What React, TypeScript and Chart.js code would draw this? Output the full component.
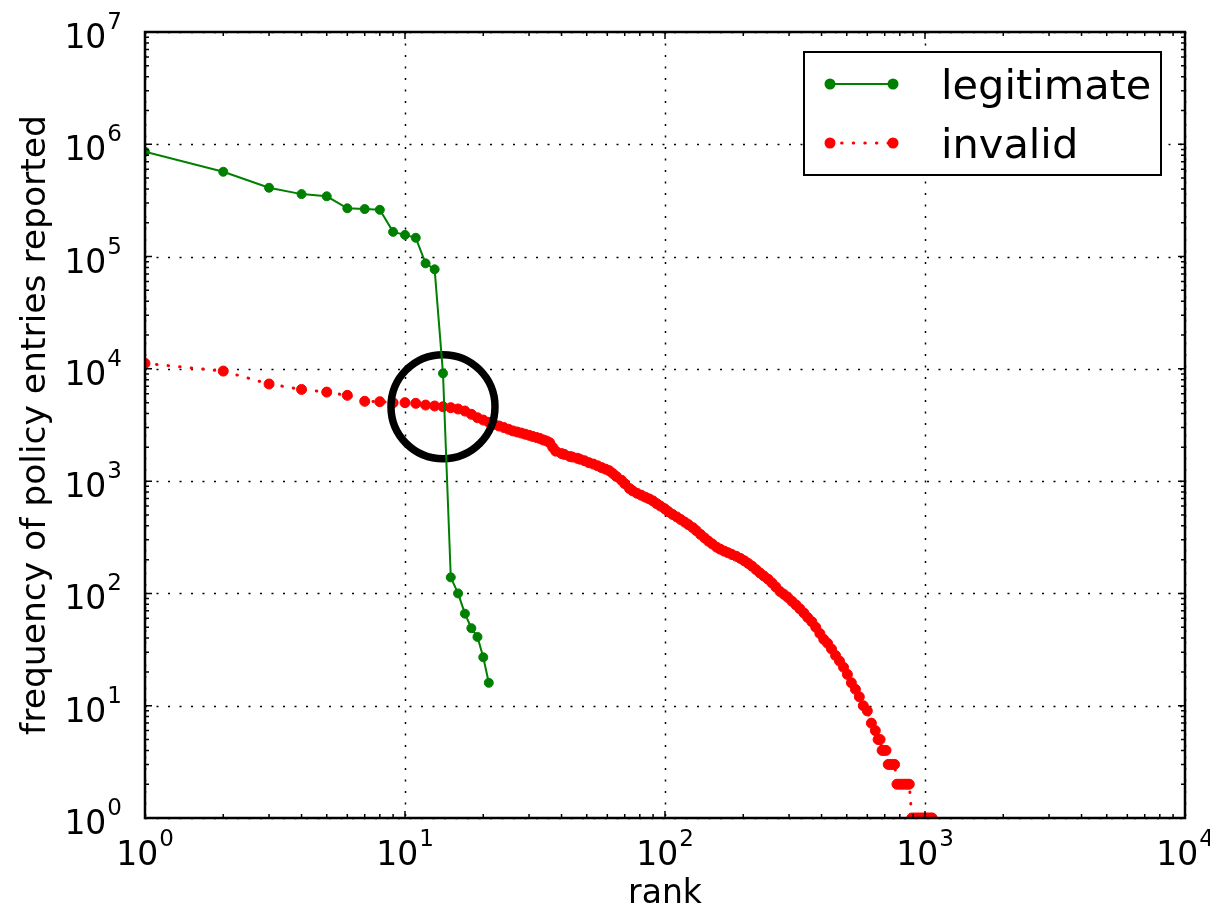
import React, { useEffect, useRef } from "react";
import { Chart, registerables } from "chart.js";

Chart.register(...registerables);

// ---------- data ----------
const seriesLabels = ["legitimate", "invalid"];
const xAxisTitle = "rank";
const yAxisTitle = "frequency of policy entries reported";

const legitRanks = [1, 2, 3, 4, 5, 6, 7, 8, 9, 10, 11, 12, 13, 14, 15, 16, 17, 18, 19, 20, 21];
const legitCounts = [
  857000, 569000, 410000, 360000, 344000, 269000, 265000, 261000, 166000, 156000,
  147000, 87000, 77000, 9120, 139, 100, 66, 49, 41, 27, 16,
];

const invalidRanks = [
  1, 2, 3, 4, 5, 6, 7, 8, 9, 10,
  11, 12, 13, 14, 15, 16, 17, 18, 19, 20,
  21, 22, 23, 24, 25, 26, 27, 28, 29, 30,
  31, 32, 33, 34, 35, 36, 37, 38, 40, 41,
  43, 44, 46, 47, 49, 51, 53, 55, 57, 59,
  61, 63, 65, 68, 70, 73, 75, 78, 81, 84,
  87, 90, 93, 96, 100, 103, 107, 111, 115, 119,
  123, 128, 132, 137, 142, 147, 152, 158, 163, 169,
  175, 181, 188, 195, 202, 209, 216, 224, 232, 240,
  249, 258, 267, 277, 287, 297, 308, 319, 330, 342,
  354, 367, 380, 394, 408, 422, 437, 453, 469, 486,
  503, 521, 540, 559, 579, 600, 622, 644, 660, 672,
  684, 696, 708, 722, 736, 750, 764, 780, 798, 816,
  834, 852, 870, 890, 910, 930, 950, 970, 990, 1010,
  1030, 1050, 1065,
];
const invalidCounts = [
  11200, 9550, 7330, 6560, 6210, 5810, 5140, 5100, 5000, 5000,
  4930, 4760, 4670, 4600, 4510, 4390, 4210, 3940, 3670, 3500,
  3340, 3210, 3100, 3000, 2900, 2800, 2740, 2680, 2620, 2560,
  2500, 2450, 2400, 2330, 2280, 2200, 2000, 1850, 1760, 1730,
  1660, 1640, 1600, 1570, 1520, 1460, 1420, 1370, 1320, 1280,
  1240, 1170, 1100, 1020, 950, 860, 820, 780, 750, 720,
  695, 665, 630, 600, 565, 535, 505, 480, 455, 432,
  410, 385, 362, 335, 312, 292, 276, 258, 248, 238,
  230, 222, 214, 205, 195, 185, 175, 163, 152, 143,
  134, 124, 114, 104, 98, 92, 85, 79, 73, 67,
  61, 56, 50, 44, 39, 36, 32, 28, 25, 22,
  19, 16, 14, 12, 10, 9, 7, 6, 5, 5,
  4, 4, 4, 3, 3, 3, 3, 2, 2, 2,
  2, 2, 2, 1, 1, 1, 1, 1, 1, 1,
  1, 1, 1,
];

// highlighted crossing (black ring)
const highlightRanks = [14];
const highlightCounts = [4600];

const xTickValues = [1, 10, 100, 1000, 10000];
const yTickValues = [1, 10, 100, 1000, 10000, 100000, 1000000, 10000000];

// ---------- helpers ----------
const FONT = "'DejaVu Sans', 'Liberation Sans', sans-serif";
const toPoints = (xs: number[], ys: number[]) => xs.map((x, i) => ({ x, y: ys[i] }));
const expOf = (v: number) => String(Math.round(Math.log10(v)));

// tick labels "10" with a raised exponent, as in matplotlib mathtext
const tickLabelPlugin = {
  id: "powLabels",
  afterDraw(chart: any) {
    const { ctx, chartArea: a, scales } = chart;
    const BASE = `33px ${FONT}`;
    const SUPF = `23px ${FONT}`;
    ctx.save();
    ctx.fillStyle = "#000";
    ctx.textBaseline = "alphabetic";
    ctx.textAlign = "left";
    xTickValues.forEach((v) => {
      const px = scales.x.getPixelForValue(v);
      const e = expOf(v);
      ctx.font = BASE;
      const w1 = ctx.measureText("10").width;
      ctx.font = SUPF;
      const w2 = ctx.measureText(e).width;
      const x0 = px - (w1 + 1 + w2) / 2;
      const by = a.bottom + 47;
      ctx.font = BASE;
      ctx.fillText("10", x0, by);
      ctx.font = SUPF;
      ctx.fillText(e, x0 + w1 + 1, by - 19);
    });
    yTickValues.forEach((v) => {
      const py = scales.y.getPixelForValue(v);
      const e = expOf(v);
      ctx.font = SUPF;
      const w2 = ctx.measureText(e).width;
      ctx.font = BASE;
      const w1 = ctx.measureText("10").width;
      const xr = a.left - 23;
      ctx.fillText("10", xr - w2 - 1 - w1, py + 16);
      ctx.font = SUPF;
      ctx.fillText(e, xr - w2, py - 3);
    });
    ctx.restore();
  },
};

// dotted grid lines + frame + inward ticks
const framePlugin = {
  id: "mplFrame",
  beforeDatasetsDraw(chart: any) {
    const { ctx, chartArea: a, scales } = chart;
    ctx.save();
    ctx.strokeStyle = "#000";
    ctx.lineWidth = 1.5;
    ctx.setLineDash([2, 9.5]);
    xTickValues.forEach((v) => {
      const px = Math.round(scales.x.getPixelForValue(v)) + 0.5;
      ctx.beginPath();
      ctx.moveTo(px, a.top);
      ctx.lineTo(px, a.bottom);
      ctx.stroke();
    });
    yTickValues.forEach((v) => {
      const py = Math.round(scales.y.getPixelForValue(v)) + 0.5;
      ctx.beginPath();
      ctx.moveTo(a.left, py);
      ctx.lineTo(a.right, py);
      ctx.stroke();
    });
    ctx.restore();
  },
  afterDatasetsDraw(chart: any) {
    const { ctx, chartArea: a, scales } = chart;
    ctx.save();
    ctx.strokeStyle = "#000";
    ctx.lineWidth = 1.5;
    ctx.setLineDash([]);
    const doAxis = (scale: any, horizontal: boolean) => {
      const lo = Math.round(Math.log10(scale.min));
      const hi = Math.round(Math.log10(scale.max));
      for (let e = lo; e <= hi; e++) {
        for (let m = 1; m <= 9; m++) {
          const v = m * Math.pow(10, e);
          if (v > scale.max * 1.0001) break;
          const len = m === 1 ? 7 : 4;
          const p = scale.getPixelForValue(v);
          ctx.beginPath();
          if (horizontal) {
            ctx.moveTo(p, a.bottom);
            ctx.lineTo(p, a.bottom - len);
            ctx.moveTo(p, a.top);
            ctx.lineTo(p, a.top + len);
          } else {
            ctx.moveTo(a.left, p);
            ctx.lineTo(a.left + len, p);
            ctx.moveTo(a.right, p);
            ctx.lineTo(a.right - len, p);
          }
          ctx.stroke();
        }
      }
    };
    doAxis(scales.x, true);
    doAxis(scales.y, false);
    ctx.lineWidth = 2.5;
    ctx.strokeRect(a.left, a.top, a.right - a.left, a.bottom - a.top);
    ctx.restore();
  },
};

// matplotlib-like boxed legend
const legendPlugin = {
  id: "mplLegend",
  afterDraw(chart: any) {
    const { ctx, chartArea: a } = chart;
    const items = chart.data.datasets.filter((d: any) => seriesLabels.includes(d.label));
    const right = a.right - 24;
    const left = right - 357;
    const top = a.top + 20;
    const h = 123;
    ctx.save();
    ctx.fillStyle = "#fff";
    ctx.fillRect(left, top, right - left, h);
    ctx.strokeStyle = "#000";
    ctx.lineWidth = 2;
    ctx.setLineDash([]);
    ctx.strokeRect(left, top, right - left, h);
    items.forEach((ds: any, i: number) => {
      const y = top + 32 + i * 59;
      const x0 = left + 26;
      const x1 = left + 89;
      ctx.save();
      ctx.strokeStyle = ds.borderColor;
      ctx.lineWidth = ds.borderWidth;
      ctx.lineCap = ds.borderCapStyle || "butt";
      ctx.setLineDash(ds.borderDash || []);
      ctx.beginPath();
      ctx.moveTo(x0, y);
      ctx.lineTo(x1, y);
      ctx.stroke();
      ctx.restore();
      ctx.fillStyle = ds.pointBackgroundColor;
      [x0, x1].forEach((x) => {
        ctx.beginPath();
        ctx.arc(x, y, 5.5, 0, Math.PI * 2);
        ctx.fill();
      });
      ctx.fillStyle = "#000";
      ctx.font = `41.5px ${FONT}`;
      ctx.textAlign = "left";
      ctx.textBaseline = "alphabetic";
      ctx.fillText(ds.label, left + 137, y + 15);
    });
    ctx.restore();
  },
};

const zeroPad = (s: any) => {
  s.paddingLeft = 0;
  s.paddingRight = 0;
  s.paddingTop = 0;
  s.paddingBottom = 0;
};

export default function App() {
  const ref = useRef<HTMLCanvasElement | null>(null);

  useEffect(() => {
    if (!ref.current) return;
    const chart = new Chart(ref.current, {
      type: "scatter",
      data: {
        datasets: [
          {
            label: seriesLabels[0],
            data: toPoints(legitRanks, legitCounts),
            showLine: true,
            borderColor: "#008000",
            backgroundColor: "#008000",
            pointBackgroundColor: "#008000",
            pointBorderColor: "#008000",
            borderWidth: 2,
            pointRadius: 4.5,
            pointBorderWidth: 1,
            tension: 0,
            clip: 0,
          } as any,
          {
            label: "highlight",
            data: toPoints(highlightRanks, highlightCounts),
            showLine: false,
            pointRadius: 52,
            pointBorderWidth: 7.5,
            pointBorderColor: "#000",
            pointBackgroundColor: "rgba(0,0,0,0)",
            backgroundColor: "rgba(0,0,0,0)",
            borderColor: "#000",
            clip: false,
          } as any,
          {
            label: seriesLabels[1],
            data: toPoints(invalidRanks, invalidCounts),
            showLine: true,
            borderColor: "#ff0000",
            backgroundColor: "#ff0000",
            pointBackgroundColor: "#ff0000",
            pointBorderColor: "#ff0000",
            borderWidth: 3,
            borderDash: [0.5, 11.1],
            borderCapStyle: "round",
            pointRadius: 5,
            pointBorderWidth: 1,
            tension: 0,
            clip: 0,
          } as any,
        ],
      },
      options: {
        animation: false,
        responsive: false,
        events: [],
        layout: { autoPadding: false, padding: { left: 0, right: 25, top: 32, bottom: 0 } },
        plugins: {
          legend: { display: false },
          tooltip: { enabled: false },
        },
        scales: {
          x: {
            type: "logarithmic",
            min: 1,
            max: 10000,
            afterBuildTicks: (s: any) => {
              s.ticks = xTickValues.map((v) => ({ value: v, major: true }));
            },
            afterFit: (s: any) => {
              s.height = 94;
              zeroPad(s);
            },
            grid: { display: false },
            border: { display: false },
            ticks: { display: false, autoSkip: false, maxRotation: 0, minRotation: 0 },
            title: {
              display: true,
              text: xAxisTitle,
              color: "#000",
              font: { family: FONT, size: 33, lineHeight: 1.05 },
              padding: { top: 0, bottom: 0 },
            },
          },
          y: {
            type: "logarithmic",
            min: 1,
            max: 10000000,
            afterBuildTicks: (s: any) => {
              s.ticks = yTickValues.map((v) => ({ value: v, major: true }));
            },
            afterFit: (s: any) => {
              s.width = 145;
              zeroPad(s);
            },
            grid: { display: false },
            border: { display: false },
            ticks: { display: false, autoSkip: false },
            title: {
              display: true,
              text: yAxisTitle,
              color: "#000",
              font: { family: FONT, size: 34.5, lineHeight: 1.2 },
              padding: { top: 15, bottom: 0 },
            },
          },
        },
      } as any,
      plugins: [framePlugin, legendPlugin, tickLabelPlugin],
    });
    return () => chart.destroy();
  }, []);

  return (
    <div style={{ position: "absolute", left: 0, top: 0, width: 1210, height: 912, background: "#fff" }}>
      <canvas ref={ref} width={1210} height={912} style={{ display: "block", width: 1210, height: 912 }} />
    </div>
  );
}
